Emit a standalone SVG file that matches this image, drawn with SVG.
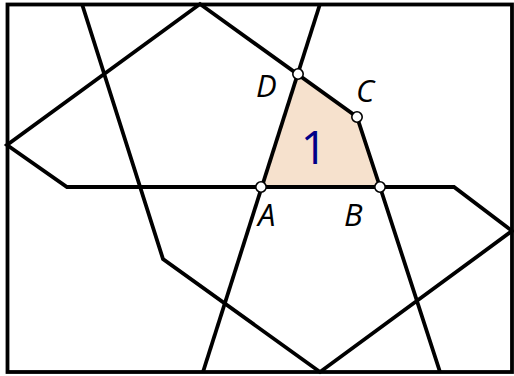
<svg xmlns="http://www.w3.org/2000/svg" width="514" height="376" viewBox="0 0 514 376">
<style>
.ln{fill:none;stroke:#000;stroke-width:3.8;stroke-linejoin:miter;stroke-linecap:butt}
.pt{fill:#fff;stroke:#000;stroke-width:1.6}
.lb{font-family:"Open Sans","Liberation Sans",sans-serif;font-style:italic;font-size:31px;fill:#000}
</style>
<rect x="0" y="0" width="514" height="376" fill="#fff"/>
<g id="region1">
<polygon points="261,187 380,187 357,117 298,74" fill="#f6e1cd"/>
</g>
<g id="connectors">
<rect class="ln" x="7.5" y="4.5" width="504.5" height="367.5"/>
<polyline class="ln" points="82,4 163,259 320,372 512,231 454,187 67,187 7,145 200,4 357,117 380,187 440,372"/>
<polyline class="ln" points="320,4 203,372"/>
</g>
<g id="ptA"><circle class="pt" cx="261" cy="187" r="5.2"/><text class="lb" x="258" y="226">A</text></g>
<g id="ptB"><circle class="pt" cx="380" cy="187" r="5.2"/><text class="lb" x="344" y="226">B</text></g>
<g id="ptC"><circle class="pt" cx="357" cy="117" r="5.2"/><text class="lb" x="356" y="102">C</text></g>
<g id="ptD"><circle class="pt" cx="298" cy="74" r="5.2"/><text class="lb" x="256" y="97">D</text></g>
<g id="label1"><text x="314" y="164" text-anchor="middle" font-family="'Open Sans','Liberation Sans',sans-serif" font-size="46" fill="#000088">1</text></g>
</svg>
